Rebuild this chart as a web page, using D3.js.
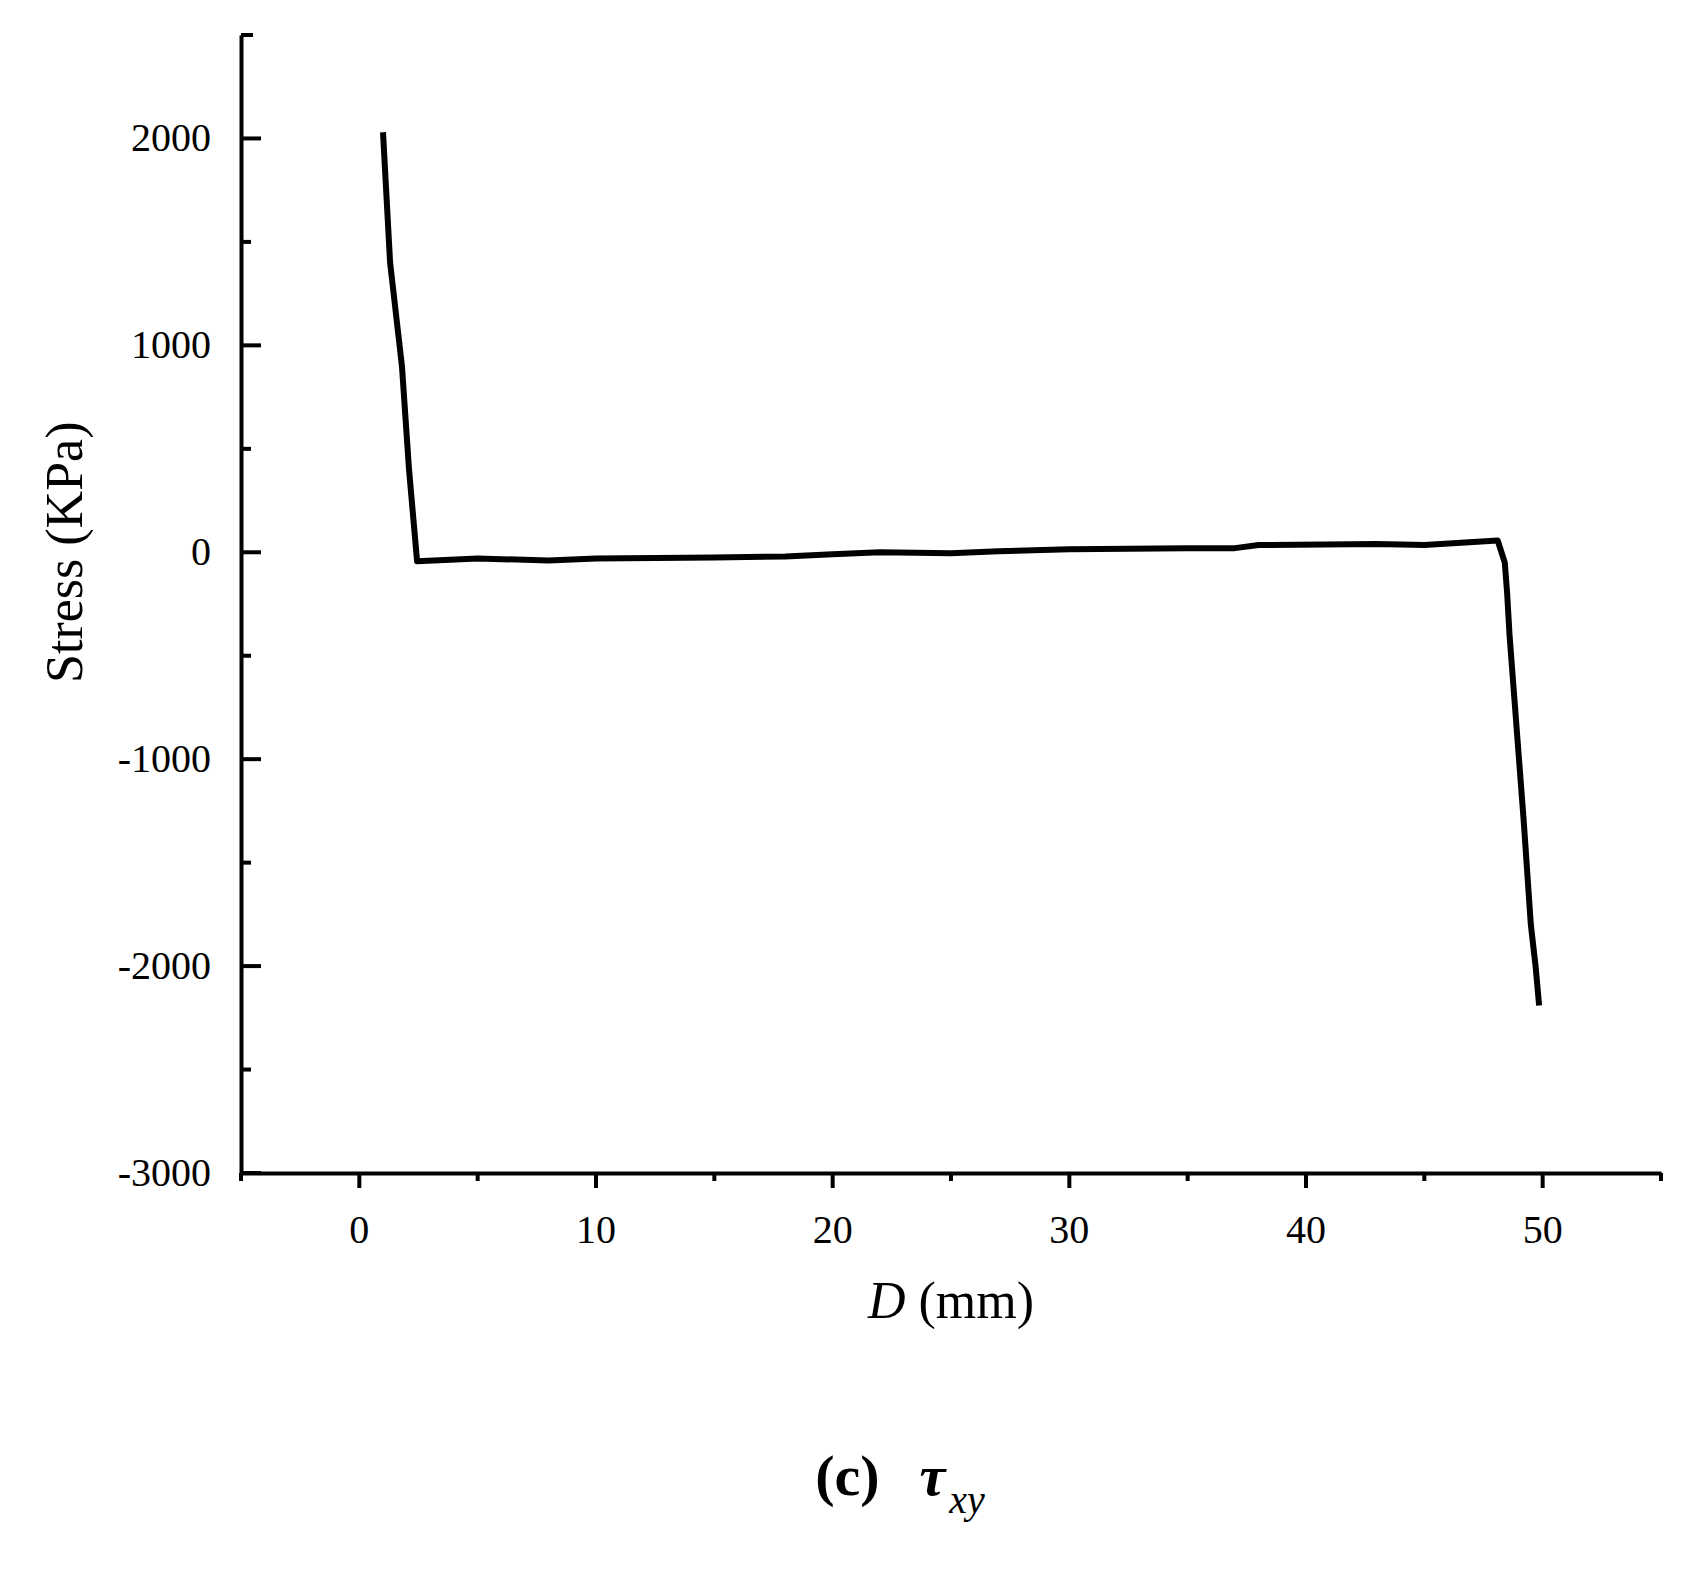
<!DOCTYPE html>
<html><head><meta charset="utf-8">
<script src="https://cdn.jsdelivr.net/npm/d3@7"></script>
<style>body{margin:0;background:#fff}</style></head>
<body><svg id="c" width="1698" height="1572"></svg>
<script>
const dValues=[1.0,1.3,1.5,1.8,2.1,2.44,5,8,10,15,18,20,22,25,27,30,35,37,38,43,45,48.1,48.4,48.5,48.6,48.8,49.0,49.2,49.5,49.7,49.85];
const stressValues=[2030,1400,1200,900,400,-43,-30,-40,-30,-25,-20,-10,0,-5,5,15,20,20,35,40,35,57,-50,-200,-400,-700,-1000,-1300,-1800,-2000,-2190];
const xTicks=[0,10,20,30,40,50];
const yTicks=[-3000,-2000,-1000,0,1000,2000];
const svg=d3.select("#c");
const L=241,R=1661,T=35,B=1173;
const x=d3.scaleLinear().domain([-5,55]).range([L,R]);
const y=d3.scaleLinear().domain([-3000,2500]).range([B,T]);
const font="'Liberation Serif',serif";
const xa=svg.append("g").attr("transform",`translate(0,${B})`)
 .call(d3.axisBottom(x).tickValues([]).tickSize(0));
xa.select(".domain").attr("stroke-width",4);
svg.append("g").selectAll("line").data(d3.range(-5,56,5)).join("line")
 .attr("x1",d=>x(d)).attr("x2",d=>x(d)).attr("y1",B).attr("y2",d=>B+(d%10===0?15:8)).attr("stroke","#000").attr("stroke-width",4);
svg.append("g").selectAll("text").data(xTicks).join("text").attr("x",d=>x(d)).attr("y",B+70)
 .attr("text-anchor","middle").attr("font-family",font).attr("font-size",40).text(d=>d);
const ya=svg.append("g").attr("transform",`translate(${L},0)`)
 .call(d3.axisLeft(y).tickValues([]).tickSize(0));
ya.select(".domain").attr("stroke-width",4);
svg.append("line").attr("x1",L).attr("x2",L+12).attr("y1",T).attr("y2",T).attr("stroke","#000").attr("stroke-width",4);
svg.append("g").selectAll("line").data(d3.range(-3000,2501,500)).join("line")
 .attr("x1",L).attr("x2",d=>L+(d%1000===0?20:10)).attr("y1",d=>y(d)).attr("y2",d=>y(d)).attr("stroke","#000").attr("stroke-width",4);
svg.append("g").selectAll("text").data(yTicks).join("text").attr("x",L-30).attr("y",d=>y(d)+13)
 .attr("text-anchor","end").attr("font-family",font).attr("font-size",40).text(d=>d);
svg.append("path").datum(dValues.map((d,i)=>[d,stressValues[i]]))
 .attr("d",d3.line().x(d=>x(d[0])).y(d=>y(d[1])))
 .attr("fill","none").attr("stroke","#000").attr("stroke-width",6).attr("stroke-linejoin","round");
const xl=svg.append("text").attr("x",x(25)).attr("y",1318).attr("text-anchor","middle").attr("font-family",font).attr("font-size",52);
xl.append("tspan").attr("font-style","italic").text("D");
xl.append("tspan").text(" (mm)");
svg.append("text").attr("transform",`translate(82,${y(0)}) rotate(-90)`).attr("text-anchor","middle")
 .attr("font-family",font).attr("font-size",52).text("Stress (KPa)");
const t=svg.append("text").attr("x",900).attr("y",1495).attr("text-anchor","middle").attr("font-family",font).attr("font-size",58);
t.append("tspan").attr("font-weight","bold").text("(c)");
t.append("tspan").attr("dx",40).attr("font-style","italic").attr("font-weight","bold").text("τ");
t.append("tspan").attr("font-style","italic").attr("font-size",40).attr("dy",18).attr("dx",4).text("xy");
</script></body></html>
